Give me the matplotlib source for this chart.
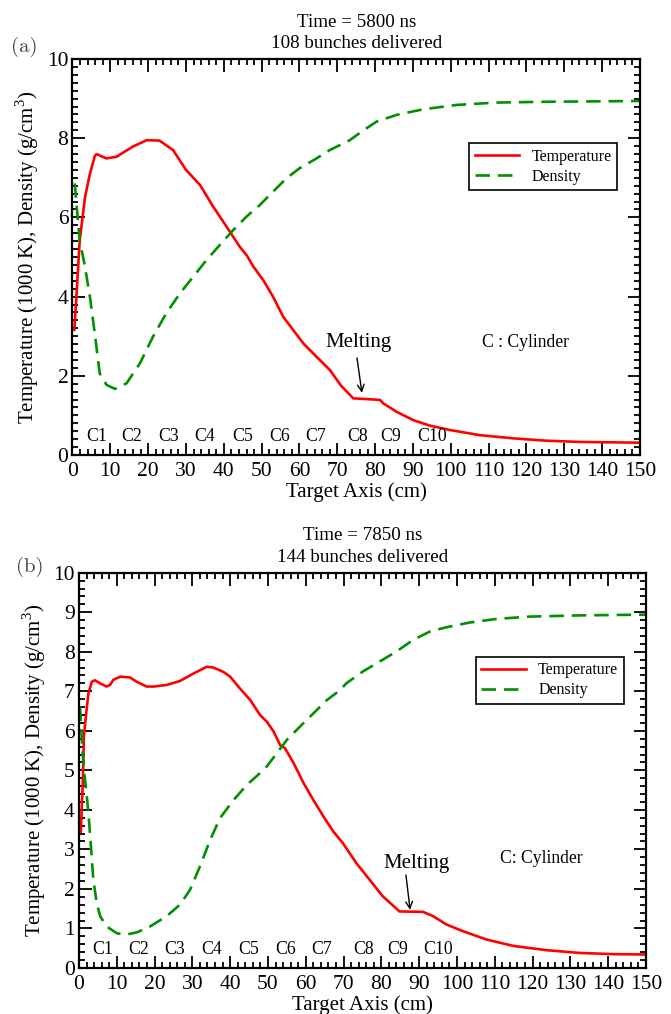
import matplotlib
matplotlib.use("Agg")
import matplotlib.pyplot as plt
from matplotlib.ticker import MultipleLocator

plt.rcParams['font.family'] = ['Liberation Serif', 'DejaVu Serif']
plt.rcParams['mathtext.fontset'] = 'custom'
plt.rcParams['mathtext.rm'] = 'Liberation Serif'

# ---- Panel (a): t = 5800 ns ----
temp_a_x = [0.5, 1.2, 1.9, 3.3, 4.6, 5.9, 6.4, 7.5, 9.0, 11.6, 16.0, 19.6, 23.0, 26.6, 30.0,
            33.7, 37.2, 40.7, 44.2, 46.0, 47.8, 50.4, 53.0, 55.7, 58.3, 61.0, 64.5, 68.0,
            71.0, 74.2, 78.0, 81.3, 82.2, 85.7, 90.1, 94.5, 99.8, 107.7, 116.5, 125.3, 134.0, 150.0]
temp_a_y = [3.16, 4.25, 5.4, 6.5, 7.1, 7.55, 7.6, 7.55, 7.49, 7.53, 7.79, 7.95, 7.94, 7.7, 7.2,
            6.82, 6.27, 5.77, 5.26, 5.05, 4.76, 4.42, 4.0, 3.49, 3.16, 2.82, 2.48, 2.15,
            1.75, 1.43, 1.41, 1.39, 1.30, 1.09, 0.88, 0.74, 0.63, 0.50, 0.42, 0.36, 0.33, 0.31]
dens_a_x = [0.6, 1.2, 1.9, 3.3, 4.6, 5.9, 7.2, 9.0, 11.2, 14.3, 17.8, 21.3, 24.8, 28.4, 31.9,
            35.4, 38.9, 42.5, 46.0, 49.5, 53.0, 56.6, 60.0, 64.5, 68.0, 73.3, 76.9, 80.4,
            85.7, 92.7, 101.5, 112.0, 125.0, 150.0]
dens_a_y = [6.86, 6.19, 5.43, 4.76, 4.0, 3.07, 2.06, 1.77, 1.67, 1.81, 2.31, 2.99, 3.58, 4.08, 4.5,
            4.92, 5.3, 5.68, 6.02, 6.31, 6.65, 6.99, 7.24, 7.49, 7.7, 7.95, 8.2, 8.42,
            8.59, 8.73, 8.84, 8.9, 8.92, 8.94]

# ---- Panel (b): t = 7850 ns ----
temp_b_x = [0.5, 1.0, 1.3, 1.9, 2.5, 3.4, 4.2, 5.6, 7.3, 8.2, 9.1, 10.9, 13.5, 15.3, 17.9, 19.7,
            23.2, 26.7, 30.3, 33.8, 35.6, 38.2, 40.0, 42.6, 45.3, 47.9, 49.7, 51.5, 53.2, 54.5,
            56.8, 59.4, 62.0, 64.7, 67.3, 69.8, 73.4, 76.9, 80.4, 84.8, 91.0, 93.7, 97.2,
            101.6, 107.8, 114.8, 123.7, 132.5, 141.3, 150.0]
temp_b_y = [3.45, 4.68, 5.86, 6.44, 6.95, 7.24, 7.28, 7.2, 7.12, 7.16, 7.29, 7.37, 7.35, 7.24, 7.12, 7.12,
            7.16, 7.26, 7.45, 7.62, 7.6, 7.49, 7.37, 7.07, 6.78, 6.4, 6.23, 5.98, 5.64, 5.56,
            5.18, 4.68, 4.25, 3.83, 3.45, 3.16, 2.65, 2.23, 1.81, 1.43, 1.42, 1.31, 1.1,
            0.93, 0.72, 0.56, 0.45, 0.38, 0.35, 0.34]
dens_b_x = [0.3, 0.7, 1.3, 1.9, 2.5, 3.1, 3.8, 4.7, 5.6, 7.3, 10.0, 12.2, 15.3, 18.8, 23.2, 26.7,
            29.4, 32.0, 34.7, 37.3, 40.9, 44.4, 47.9, 49.7, 52.3, 55.0, 58.5, 62.0, 65.6, 69.1,
            70.7, 75.1, 79.5, 83.9, 88.4, 92.8, 97.2, 103.4, 110.4, 119.3, 132.5, 150.0]
dens_b_y = [6.61, 5.86, 5.01, 4.51, 3.92, 3.16, 2.23, 1.64, 1.31, 1.05, 0.88, 0.84, 0.9, 1.05, 1.31, 1.6,
            1.98, 2.57, 3.24, 3.79, 4.25, 4.63, 4.93, 5.1, 5.43, 5.77, 6.11, 6.44, 6.78, 7.03,
            7.2, 7.5, 7.75, 8.0, 8.3, 8.51, 8.62, 8.74, 8.83, 8.89, 8.92, 8.94]

cyl_labels = ['C1', 'C2', 'C3', 'C4', 'C5', 'C6', 'C7', 'C8', 'C9', 'C10']
cyl_pos = [6.3, 15.7, 25.4, 35.0, 44.9, 54.8, 64.3, 75.3, 84.2, 95.1]

RED = '#ff0000'
GREEN = '#009000'

fig = plt.figure(figsize=(6.71, 10.14), dpi=100)
ax_a = fig.add_axes([0.108, 0.5513, 0.8458, 0.3905])
ax_b = fig.add_axes([0.1177, 0.0454, 0.845, 0.3898])


def style_axes(ax, ymajor):
    ax.set_xlim(0, 150)
    ax.set_ylim(0, 10)
    ax.xaxis.set_major_locator(MultipleLocator(10))
    ax.xaxis.set_minor_locator(MultipleLocator(2))
    ax.yaxis.set_major_locator(MultipleLocator(ymajor))
    ax.yaxis.set_minor_locator(MultipleLocator(0.2))
    ax.tick_params(which='both', direction='in', top=True, right=True, width=1.3)
    ax.tick_params(which='major', length=9, labelsize=15.5)
    ax.tick_params(axis='x', which='major', pad=5)
    ax.tick_params(axis='y', which='major', pad=3)
    ax.tick_params(which='minor', length=4.5)
    for sp in ax.spines.values():
        sp.set_linewidth(1.6)
    ax.set_xlabel('Target Axis (cm)', fontsize=15, labelpad=1)
    ax.set_ylabel('Temperature (1000 K), Density (g/cm$^3$)', fontsize=15, labelpad=4)


def draw_panel(ax, tx, ty, dx, dy, title, tag, tag_xy, melt_text, melt_tail, melt_head,
               cyl_text, cyl_xy, legend_anchor):
    ax.plot(tx, ty, color=RED, lw=1.9, label='Temperature')
    ax.plot(dx, dy, color=GREEN, lw=1.9, dashes=(5.5, 3), label='Density')
    for lab, xp in zip(cyl_labels, cyl_pos):
        ax.text(xp, 0.46, lab, ha='center', va='center', fontsize=12.8)
    ax.annotate('', xy=melt_head, xytext=melt_tail,
                arrowprops=dict(arrowstyle='->', color='black', lw=1.0, shrinkA=0, shrinkB=0,
                                mutation_scale=12))
    ax.text(melt_text[0], melt_text[1], 'Melting', ha='center', va='center', fontsize=15)
    ax.text(cyl_xy[0], cyl_xy[1], cyl_text, ha='left', va='center', fontsize=12.7)
    ax.set_title(title, fontsize=13.7, linespacing=1.32, pad=8)
    ax.text(tag_xy[0], tag_xy[1], tag, transform=ax.transAxes, fontsize=15,
            family='cmr10', color='#444444', ha='center', va='center')
    leg = ax.legend(loc='upper left', bbox_to_anchor=legend_anchor, borderaxespad=0,
                    fontsize=11.5, frameon=True, fancybox=False, edgecolor='black',
                    framealpha=1, handlelength=2.8, handletextpad=0.75, borderpad=0.35,
                    labelspacing=0.25)
    leg.get_frame().set_linewidth(1.2)


style_axes(ax_a, 2)
draw_panel(ax_a, temp_a_x, temp_a_y, dens_a_x, dens_a_y,
           'Time = 5800 ns\n108 bunches delivered', '(a)', (-0.0855, 1.030),
           (75.7, 2.83), (75.2, 2.45), (76.5, 1.57), 'C : Cylinder', (108.2, 2.83),
           (0.6987, 0.788))

style_axes(ax_b, 1)
draw_panel(ax_b, temp_b_x, temp_b_y, dens_b_x, dens_b_y,
           'Time = 7850 ns\n144 bunches delivered', '(b)', (-0.0864, 1.0144),
           (89.2, 2.65), (86.5, 2.35), (87.6, 1.47), 'C: Cylinder', (111.4, 2.78),
           (0.700, 0.787))

fig.savefig('out.png', dpi=100)
